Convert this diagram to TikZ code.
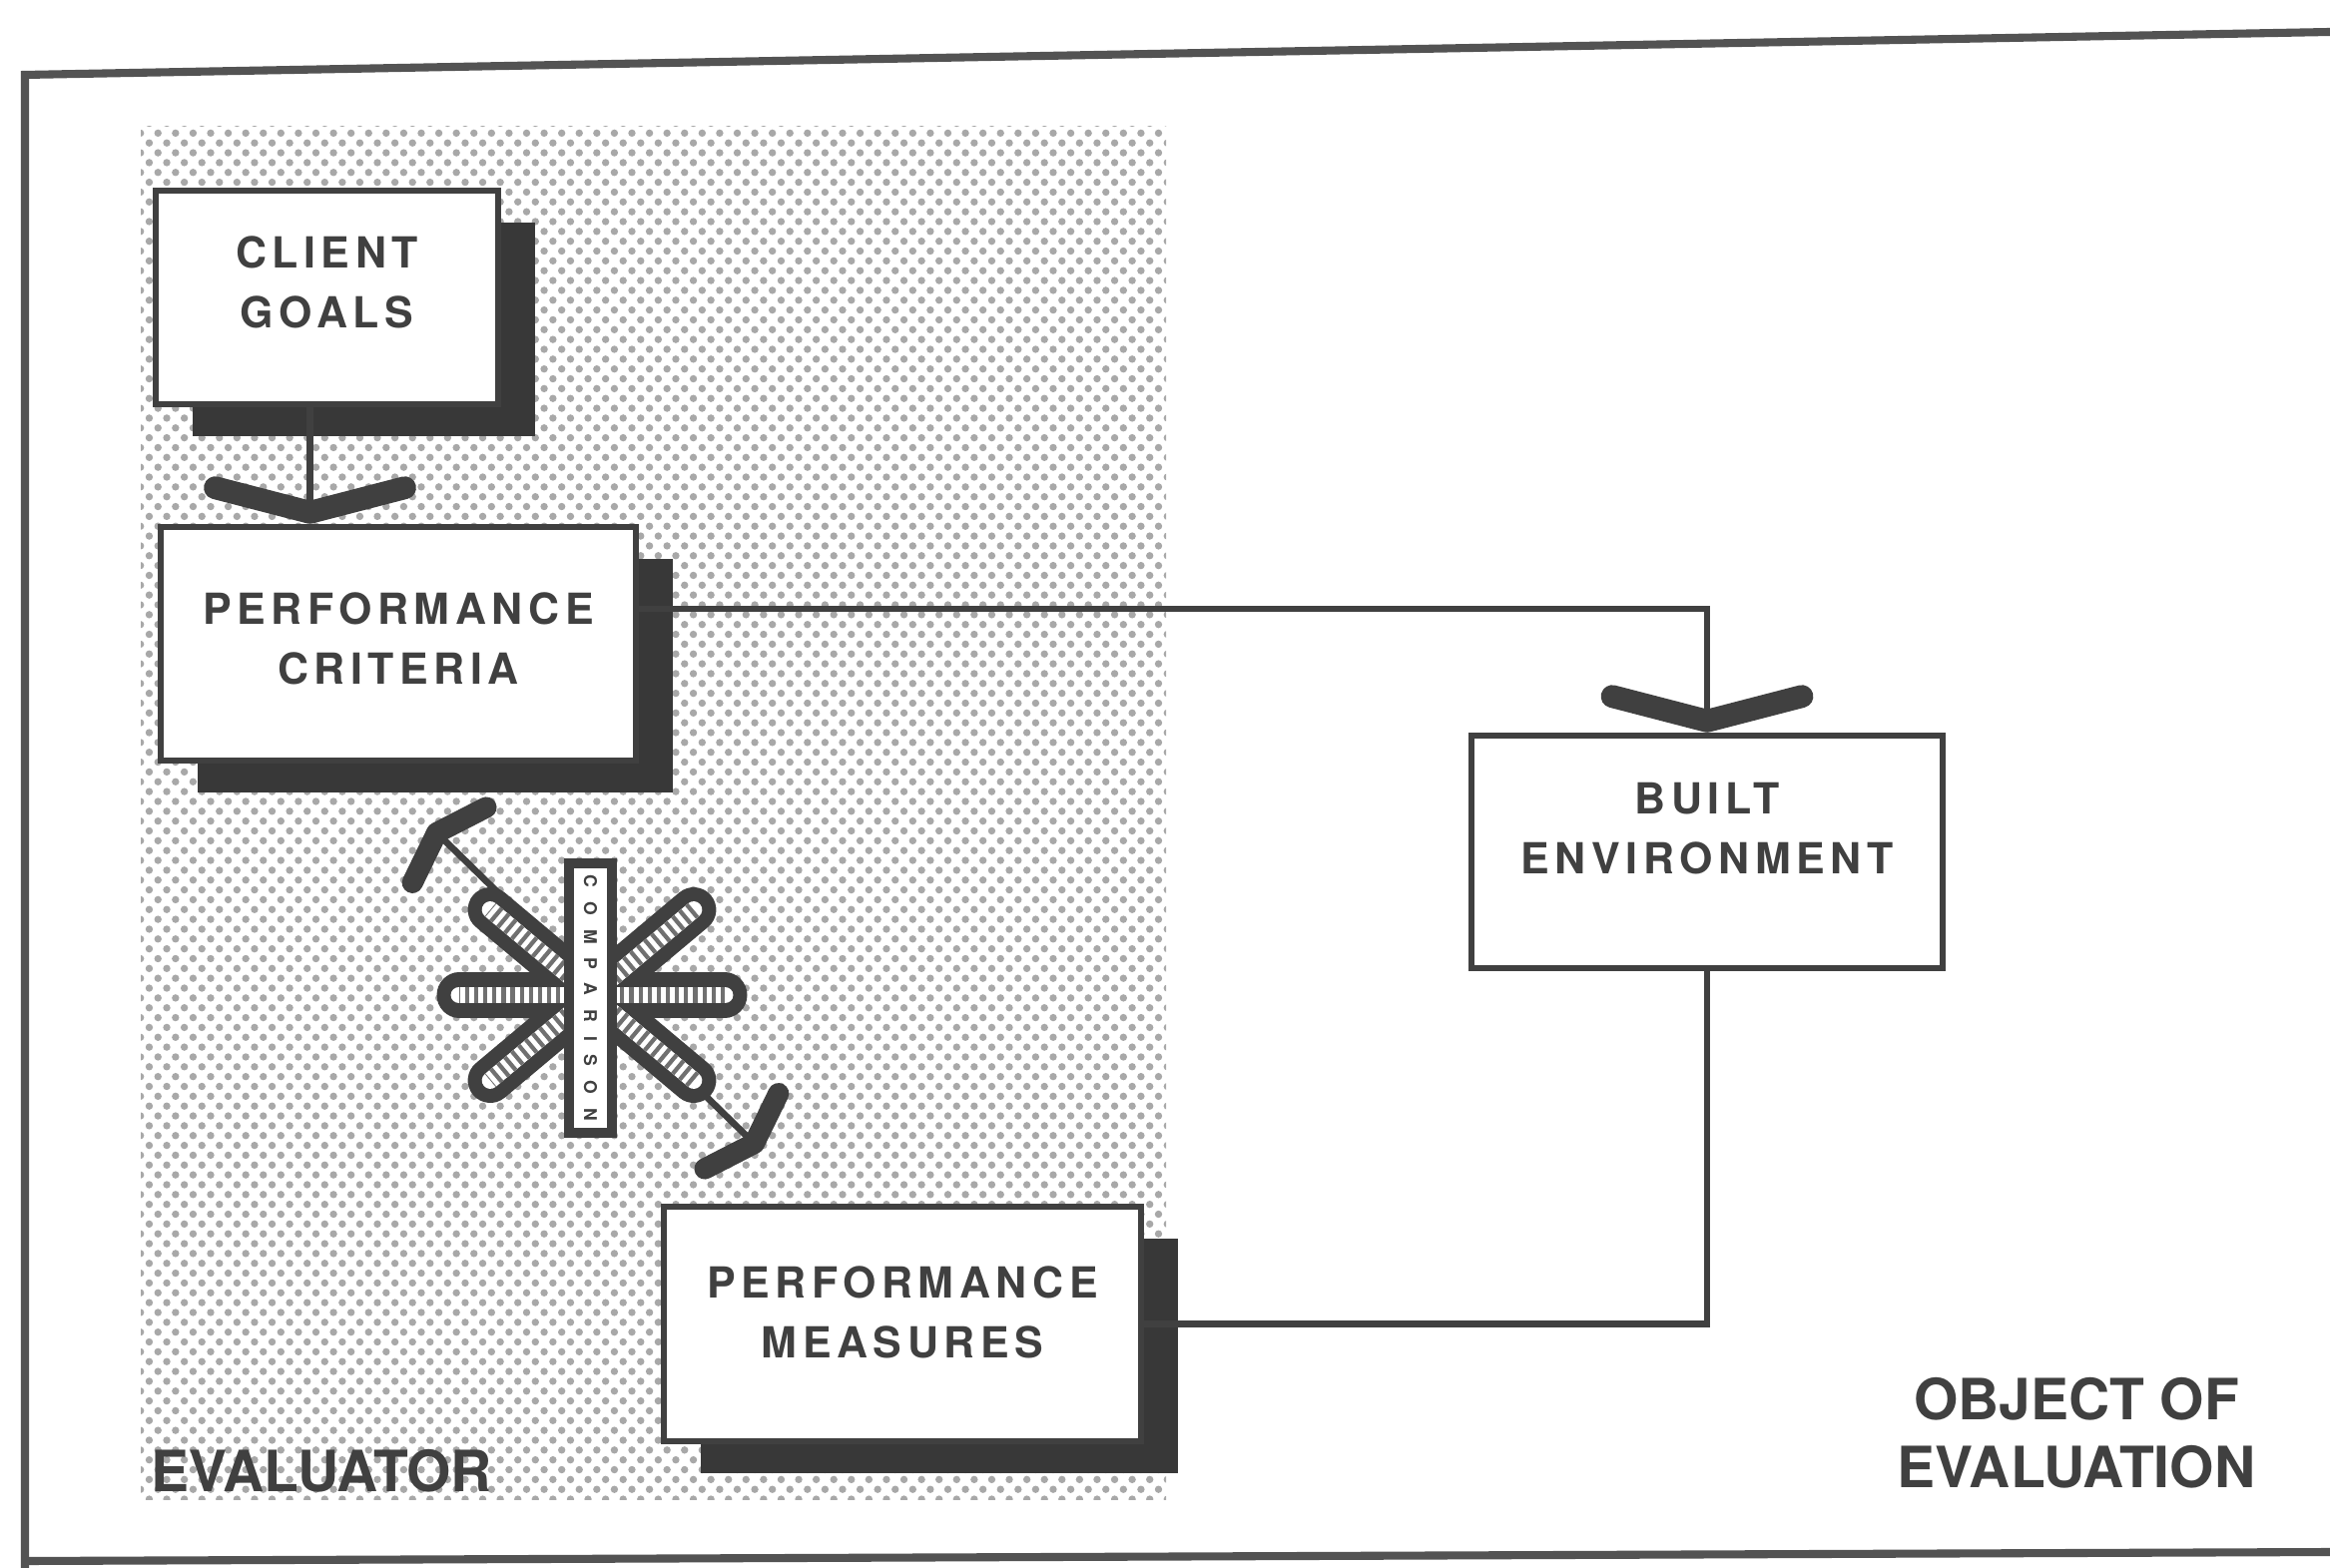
\documentclass[tikz,border=0pt]{standalone}
\usepackage{fontspec}
\setmainfont{TeX Gyre Heros}
\newfontfamily\boxfont[LetterSpace=13]{TeX Gyre Heros}
\newfontfamily\barfont[LetterSpace=80]{TeX Gyre Heros}
\usetikzlibrary{arrows.meta,shadows,patterns,calc}
\definecolor{ink}{HTML}{404040}
\definecolor{shade}{HTML}{383838}
\pgfdeclarepatternformonly{evaldots}{\pgfqpoint{-1.25pt}{-1.4pt}}{\pgfqpoint{3.75pt}{4.2pt}}{\pgfqpoint{5pt}{5.6pt}}{%
  \pgfpathcircle{\pgfqpoint{0pt}{0pt}}{1.05pt}%
  \pgfpathcircle{\pgfqpoint{2.5pt}{2.8pt}}{1.05pt}%
  \pgfusepath{fill}}
\tikzset{
  wingbig/.tip={Straight Barb[length=7pt,width=54pt,line width=6.5pt,round]},
  wingsmall/.tip={Straight Barb[length=5pt,width=30pt,line width=6pt,round]},
  box/.style={draw=ink, line width=1.8pt, fill=white, inner sep=0pt},
  shadowbox/.style={box, drop shadow={shadow xshift=0.37cm, shadow yshift=-0.32cm, fill=shade, opacity=1}},
  boxtext/.style={align=center, text=ink, inner sep=0pt,
    font=\boxfont\bfseries\fontsize{12.2}{17}\selectfont},
  conn/.style={draw=ink, line width=1.9pt},
  lbl/.style={text=ink, font=\bfseries\fontsize{16.2}{19.3}\selectfont, align=center, inner sep=0pt},
  frameline/.style={draw=ink!90, line width=2.3pt},
  barout/.style={draw=ink, line width=12.8pt, line cap=round},
  barin/.style={draw=white, line width=4.8pt, line cap=round},
  barhatch/.style={draw=ink!75, line width=4.8pt, dash pattern=on 1.2pt off 1.4pt},
}
\begin{document}
\begin{tikzpicture}[x=0.01cm,y=-0.01cm]
\useasboundingbox (0,0) rectangle (2334,1571);
% frame
\draw[frameline] (25,1571) -- (25,75) -- (2334,32);
\draw[frameline] (25,1564) -- (2334,1555);
% shaded evaluator zone
\fill[pattern=evaldots, pattern color=black!34] (141,127) rectangle (1168,1502);

% boxes
\node[shadowbox, minimum width=3.43cm, minimum height=2.14cm] (cg) at (327.5,298) {};
\node[shadowbox, minimum width=4.76cm, minimum height=2.34cm] (pc) at (399,645) {};
\node[box, minimum width=4.72cm, minimum height=2.33cm] (be) at (1710,853.5) {};
\node[shadowbox, minimum width=4.78cm, minimum height=2.35cm] (pm) at (904,1326.5) {};
\node[boxtext] (cgt) at ($(cg.center)+(0,-15)$) {CLIENT\\GOALS};
\node[boxtext] (pct) at ($(pc.center)+(0,-5)$) {PERFORMANCE\\CRITERIA};
\node[boxtext] (bet) at ($(be.center)+(0,-23)$) {BUILT\\ENVIRONMENT};
\node[boxtext] (pmt) at ($(pm.center)+(0,-12)$) {PERFORMANCE\\MEASURES};

% labels
\node[lbl, anchor=west] (ev) at (151,1474) {EVALUATOR};
\node[lbl] (ob) at (2080,1436) {OBJECT OF\\EVALUATION};

% connectors
\coordinate (cgout) at ($(cg.south)+(-17,0)$);
\draw[conn, -{wingbig}] (cgout) -- (cgout |- pc.north);
\coordinate (pcout) at ($(pc.east)+(0,-35)$);
\draw[conn, -{wingbig}] (pcout) -| (be.north);
\draw[conn] (be.south) |- (pm.east);

% comparison
\coordinate (cmpA) at (430,827);
\coordinate (cmpB) at (763,1153);
\draw[conn, {wingsmall}-{wingsmall}] (cmpA) -- (cmpB);
\coordinate (sc) at (593,997);
\foreach \a in {0,40,-40} {\draw[barout] ($(sc)+(\a:133)$) -- ($(sc)+(\a+180:133)$);}
\foreach \a in {0,40,-40} {\draw[barin] ($(sc)+(\a:133)$) -- ($(sc)+(\a+180:133)$);}
\foreach \a in {0,40,-40} {\draw[barhatch] ($(sc)+(\a:133)$) -- ($(sc)+(\a+180:133)$);}
\node[draw=ink, line width=2.8pt, fill=white, minimum width=0.43cm, minimum height=2.7cm, inner sep=0pt, text=ink]
  (cmpbar) at (591.5,1000) {\rotatebox{-90}{\barfont\bfseries\fontsize{5}{6}\selectfont COMPARISON}};
\end{tikzpicture}
\end{document}
